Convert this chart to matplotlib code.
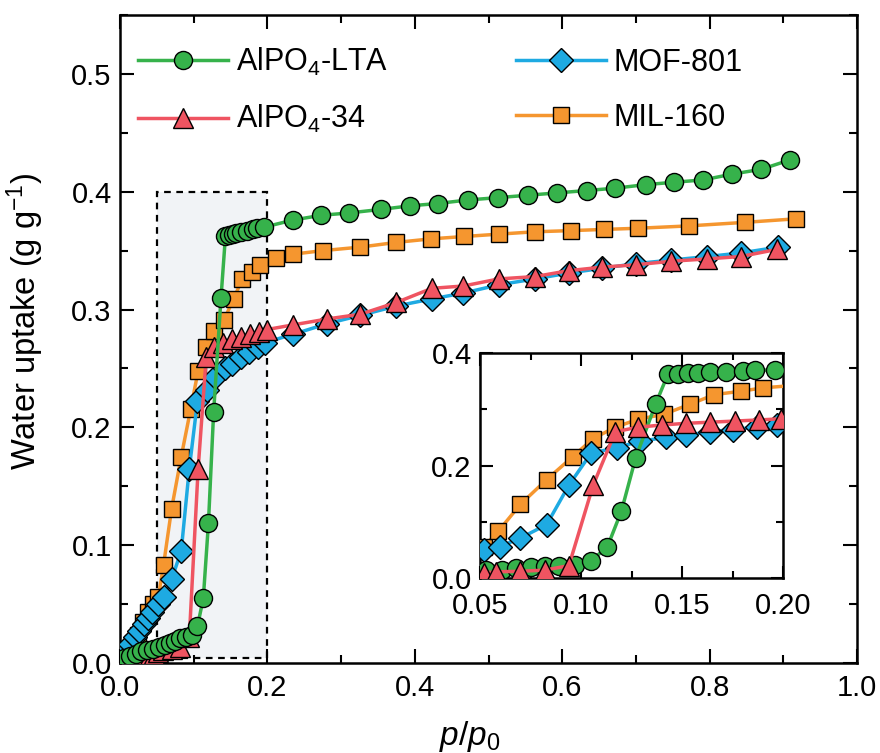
import numpy as np
import matplotlib
matplotlib.use("Agg")
import matplotlib.pyplot as plt
from matplotlib.patches import Rectangle
from matplotlib.ticker import MultipleLocator, FormatStrFormatter

plt.rcParams['font.family'] = ['Liberation Sans', 'DejaVu Sans']
plt.rcParams['mathtext.fontset'] = 'custom'
plt.rcParams['mathtext.rm'] = 'Liberation Sans'
plt.rcParams['mathtext.it'] = 'Liberation Sans:italic'
plt.rcParams['mathtext.default'] = 'regular'

# AlPO4-LTA
lta_x = [0.005, 0.013, 0.021, 0.029, 0.037, 0.045, 0.053, 0.061, 0.068, 0.075, 0.082, 0.089,
         0.097, 0.105, 0.113, 0.120, 0.127, 0.137, 0.143, 0.148, 0.153, 0.158, 0.164, 0.172,
         0.180, 0.186, 0.196, 0.235, 0.273, 0.311, 0.354, 0.393, 0.431, 0.472, 0.513, 0.553,
         0.593, 0.633, 0.672, 0.713, 0.751, 0.791, 0.831, 0.870, 0.909]
lta_y = [0.004, 0.006, 0.008, 0.010, 0.011, 0.012, 0.014, 0.015, 0.017, 0.019, 0.021, 0.022,
         0.024, 0.031, 0.055, 0.119, 0.213, 0.310, 0.362, 0.363, 0.364, 0.365, 0.366, 0.367,
         0.368, 0.369, 0.370, 0.376, 0.380, 0.382, 0.385, 0.388, 0.390, 0.393, 0.395, 0.397,
         0.399, 0.401, 0.403, 0.406, 0.408, 0.410, 0.415, 0.419, 0.427]

# MIL-160
mil_x = [0.004, 0.010, 0.017, 0.024, 0.031, 0.038, 0.045, 0.052, 0.059, 0.070, 0.083, 0.096,
         0.106, 0.117, 0.128, 0.141, 0.154, 0.166, 0.179, 0.190, 0.211, 0.235, 0.275, 0.326,
         0.375, 0.422, 0.467, 0.514, 0.563, 0.612, 0.657, 0.703, 0.772, 0.848, 0.917]
mil_y = [0.004, 0.010, 0.017, 0.024, 0.035, 0.043, 0.050, 0.056, 0.083, 0.131, 0.175, 0.216,
         0.248, 0.268, 0.282, 0.291, 0.309, 0.326, 0.332, 0.338, 0.344, 0.347, 0.350, 0.353,
         0.357, 0.360, 0.362, 0.364, 0.366, 0.367, 0.368, 0.369, 0.371, 0.374, 0.377]

# MOF-801
mof_x = [0.003, 0.008, 0.014, 0.020, 0.026, 0.032, 0.038, 0.044, 0.052, 0.060, 0.070, 0.083,
         0.094, 0.105, 0.118, 0.129, 0.142, 0.152, 0.164, 0.175, 0.187, 0.197, 0.235, 0.281,
         0.326, 0.375, 0.423, 0.466, 0.514, 0.563, 0.609, 0.654, 0.700, 0.748, 0.797, 0.842, 0.893]
mof_y = [0.004, 0.010, 0.016, 0.022, 0.027, 0.033, 0.038, 0.043, 0.050, 0.056, 0.071, 0.095,
         0.165, 0.222, 0.232, 0.243, 0.250, 0.254, 0.260, 0.264, 0.268, 0.272, 0.279, 0.288,
         0.295, 0.303, 0.309, 0.314, 0.321, 0.326, 0.331, 0.335, 0.339, 0.342, 0.345, 0.348, 0.353]

# AlPO4-34
a34_x = [0.004, 0.010, 0.016, 0.022, 0.028, 0.034, 0.040, 0.046, 0.052, 0.058, 0.070, 0.082,
         0.094, 0.106, 0.117, 0.128, 0.140, 0.152, 0.164, 0.176, 0.188, 0.199, 0.235, 0.281,
         0.326, 0.375, 0.423, 0.466, 0.514, 0.563, 0.609, 0.654, 0.700, 0.748, 0.797, 0.842, 0.891]
a34_y = [0.002, 0.003, 0.004, 0.005, 0.005, 0.006, 0.007, 0.008, 0.009, 0.011, 0.012, 0.014,
         0.022, 0.165, 0.260, 0.268, 0.272, 0.275, 0.277, 0.279, 0.281, 0.283, 0.287, 0.292,
         0.296, 0.306, 0.318, 0.320, 0.326, 0.328, 0.333, 0.336, 0.338, 0.341, 0.343, 0.345, 0.351]

# label, x, y, marker, color, marker size, zorder main, zorder inset
series = [
    ('MIL-160', mil_x, mil_y, 's', '#f5962f', 12, 3, 3),
    ('MOF-801', mof_x, mof_y, 'D', '#1eaae2', 12, 4, 4),
    ('AlPO$_4$-34', a34_x, a34_y, '^', '#ef5461', 14, 5, 6),
    ('AlPO$_4$-LTA', lta_x, lta_y, 'o', '#36b24b', 13, 6, 5),
]

fig = plt.figure(figsize=(8.8, 7.53), dpi=100)
ax = fig.add_axes([0.1364, 0.1195, 0.8375, 0.8606])

handles = {}
for lab, x, y, m, c, ms, z, zi in series:
    h, = ax.plot(x, y, '-', color=c, lw=2.5, marker=m, ms=ms, mfc=c, mec='black',
                 mew=1.0, zorder=z, label=lab)
    handles[lab] = h

ax.add_patch(Rectangle((0.05, 0.004), 0.15, 0.396, facecolor='#f1f3f6', edgecolor='black',
                       ls=(0, (3, 2.5)), lw=1.6, zorder=1))

ax.set_xlim(0, 1.0)
ax.set_ylim(0, 0.55)
ax.xaxis.set_major_locator(MultipleLocator(0.2))
ax.xaxis.set_minor_locator(MultipleLocator(0.1))
ax.yaxis.set_major_locator(MultipleLocator(0.1))
ax.yaxis.set_minor_locator(MultipleLocator(0.05))
ax.tick_params(which='both', direction='in', top=True, right=True, labelsize=21, width=1.5)
ax.tick_params(which='major', length=10)
ax.tick_params(which='minor', length=6)
ax.tick_params(axis='x', pad=8)
ax.tick_params(axis='y', pad=6)
for s in ax.spines.values():
    s.set_linewidth(1.8)
ax.set_xlabel('$\\mathit{p}$/$\\mathit{p}_0$', fontsize=24)
ax.set_ylabel('Water uptake (g g$^{-1}$)', fontsize=23.5)
ax.xaxis.set_label_coords(0.475, -0.087)
ax.yaxis.set_label_coords(-0.1, 0.527)

order = ['AlPO$_4$-LTA', 'AlPO$_4$-34', 'MOF-801', 'MIL-160']
ax.legend([handles[k] for k in order], order, ncol=2, frameon=False, fontsize=22,
          loc='upper left', bbox_to_anchor=(-0.005, 0.985), handlelength=2.95,
          columnspacing=4.2, labelspacing=0.82, handletextpad=0.25, borderaxespad=0.3)

ins = fig.add_axes([0.5455, 0.2324, 0.3443, 0.2988])
for lab, x, y, m, c, ms, z, zi in series:
    ins.plot(x, y, '-', color=c, lw=2.5, marker=m, ms=ms, mfc=c, mec='black',
             mew=1.0, zorder=zi)
ins.set_xlim(0.05, 0.20)
ins.set_ylim(0, 0.4)
ins.xaxis.set_major_locator(MultipleLocator(0.05))
ins.xaxis.set_minor_locator(MultipleLocator(0.025))
ins.yaxis.set_major_locator(MultipleLocator(0.2))
ins.yaxis.set_minor_locator(MultipleLocator(0.1))
ins.xaxis.set_major_formatter(FormatStrFormatter('%.2f'))
ins.yaxis.set_major_formatter(FormatStrFormatter('%.1f'))
ins.tick_params(which='both', direction='in', top=True, right=True, labelsize=21, width=1.5)
ins.tick_params(which='major', length=9)
ins.tick_params(which='minor', length=5)
ins.tick_params(axis='x', pad=10)
ins.tick_params(axis='y', pad=6)
for s in ins.spines.values():
    s.set_linewidth(1.8)

fig.savefig('out.png', dpi=100)
